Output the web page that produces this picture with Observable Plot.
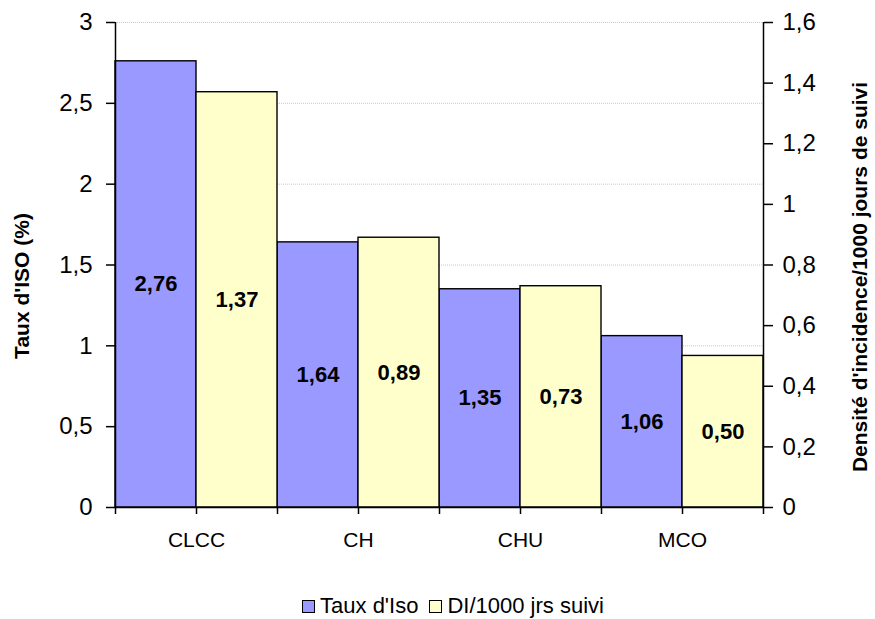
<!DOCTYPE html>
<html>
<head>
<meta charset="utf-8">
<script src="https://cdn.jsdelivr.net/npm/d3@7"></script>
<script src="https://cdn.jsdelivr.net/npm/@observablehq/plot@0.6"></script>
<style>
  body { margin: 0; background: white; font-family: "Liberation Sans", Arial, sans-serif; }
  #legend { display: flex; justify-content: center; align-items: center; font-size: 22px; line-height: 26px; margin-top: 23px; margin-left: 42px; color: #000; }
  #legend .sw { display: inline-block; width: 11px; height: 11px; border: 1px solid #000; margin-right: 5px; }
  #legend .item { display: flex; align-items: center; margin-right: 11px; }
</style>
</head>
<body>
<div id="chart"></div>
<div id="legend"></div>
<script>
const categories = ["CLCC", "CH", "CHU", "MCO"];
const tauxIso = [2.76, 1.64, 1.35, 1.06];
const diValues = [1.37, 0.89, 0.73, 0.50];
const leftTicks = [0, 0.5, 1, 1.5, 2, 2.5, 3];
const rightTicks = [0, 0.2, 0.4, 0.6, 0.8, 1, 1.2, 1.4, 1.6];
const seriesNames = ["Taux d'Iso", "DI/1000 jrs suivi"];
const seriesColors = ["#9999FF", "#FFFFCC"];
const leftTitle = "Taux d'ISO (%)";
const rightTitle = "Densité d'incidence/1000 jours de suivi";

const leftMax = 3, rightMax = 1.6;
const ratio = leftMax / rightMax;
const fmt = d => String(d).replace(".", ",");
const fmt2 = d => d.toFixed(2).replace(".", ",");

const blueRows = categories.map((c, i) => ({cat: c, i, value: tauxIso[i], y: tauxIso[i]}));
const yellowRows = categories.map((c, i) => ({cat: c, i, value: diValues[i], y: diValues[i] * ratio}));

const chart = Plot.plot({
  width: 875,
  height: 570,
  marginTop: 22,
  marginBottom: 63,
  marginLeft: 115,
  marginRight: 112,
  x: {domain: [0, categories.length], axis: null},
  y: {domain: [0, leftMax], axis: null},
  style: {fontFamily: "'Liberation Sans', Arial, sans-serif", background: "white", color: "black"},
  marks: [
    Plot.ruleY(leftTicks.slice(1), {stroke: "#c8c8c8", strokeDasharray: "1,1"}),
    Plot.rect(blueRows, {x1: d => d.i, x2: d => d.i + 0.5, y1: 0, y2: "y", fill: seriesColors[0], stroke: "black", strokeWidth: 1.4}),
    Plot.rect(yellowRows, {x1: d => d.i + 0.5, x2: d => d.i + 1, y1: 0, y2: "y", fill: seriesColors[1], stroke: "black", strokeWidth: 1.4}),
    Plot.text(blueRows, {x: d => d.i + 0.25, y: d => d.y / 2, text: d => fmt2(d.value), fontWeight: "bold", fontSize: 22}),
    Plot.text(yellowRows, {x: d => d.i + 0.75, y: d => d.y / 2, text: d => fmt2(d.value), fontWeight: "bold", fontSize: 22}),
    Plot.ruleX([0, categories.length], {y1: 0, y2: leftMax, stroke: "black", strokeWidth: 1.5}),
    Plot.ruleY([0], {stroke: "black", strokeWidth: 1.5}),
    Plot.axisY(leftTicks, {anchor: "left", tickSize: 9, tickPadding: 14, fontSize: 24, tickFormat: fmt, label: null, strokeWidth: 1.5}),
    Plot.axisY(rightTicks.map(v => v * ratio), {anchor: "right", tickSize: 9, tickPadding: 10, fontSize: 24, tickFormat: d => fmt(Math.round(d / ratio * 10) / 10), label: null, strokeWidth: 1.5}),
    Plot.axisX(d3.range(0, categories.length + 0.01, 0.5), {anchor: "bottom", tickSize: 7, tickFormat: () => "", label: null, strokeWidth: 1.5}),
    Plot.axisX(categories.map((c, i) => i + 0.5), {anchor: "bottom", tickSize: 0, tickPadding: 25, fontSize: 21, tickFormat: d => categories[Math.floor(d)], label: null}),
    Plot.text([leftTitle], {frameAnchor: "left", textAnchor: "middle", rotate: -90, dx: -93, dy: 21, fontWeight: "bold", fontSize: 21, ariaLabel: "left-title"}),
    Plot.text([rightTitle], {frameAnchor: "right", textAnchor: "middle", rotate: -90, dx: 97, dy: 12, fontWeight: "bold", fontSize: 21, ariaLabel: "right-title"})
  ]
});
d3.select(chart).selectAll("g[aria-label='left-title'] text").attr("textLength", 158).attr("lengthAdjust", "spacingAndGlyphs");
d3.select(chart).selectAll("g[aria-label='right-title'] text").attr("textLength", 428).attr("lengthAdjust", "spacingAndGlyphs");
document.getElementById("chart").appendChild(chart);

const legend = document.getElementById("legend");
seriesNames.forEach((name, k) => {
  const item = document.createElement("span");
  item.className = "item";
  const sw = document.createElement("span");
  sw.className = "sw";
  sw.style.background = seriesColors[k];
  item.appendChild(sw);
  item.appendChild(document.createTextNode(name));
  legend.appendChild(item);
});
</script>
</body>
</html>
